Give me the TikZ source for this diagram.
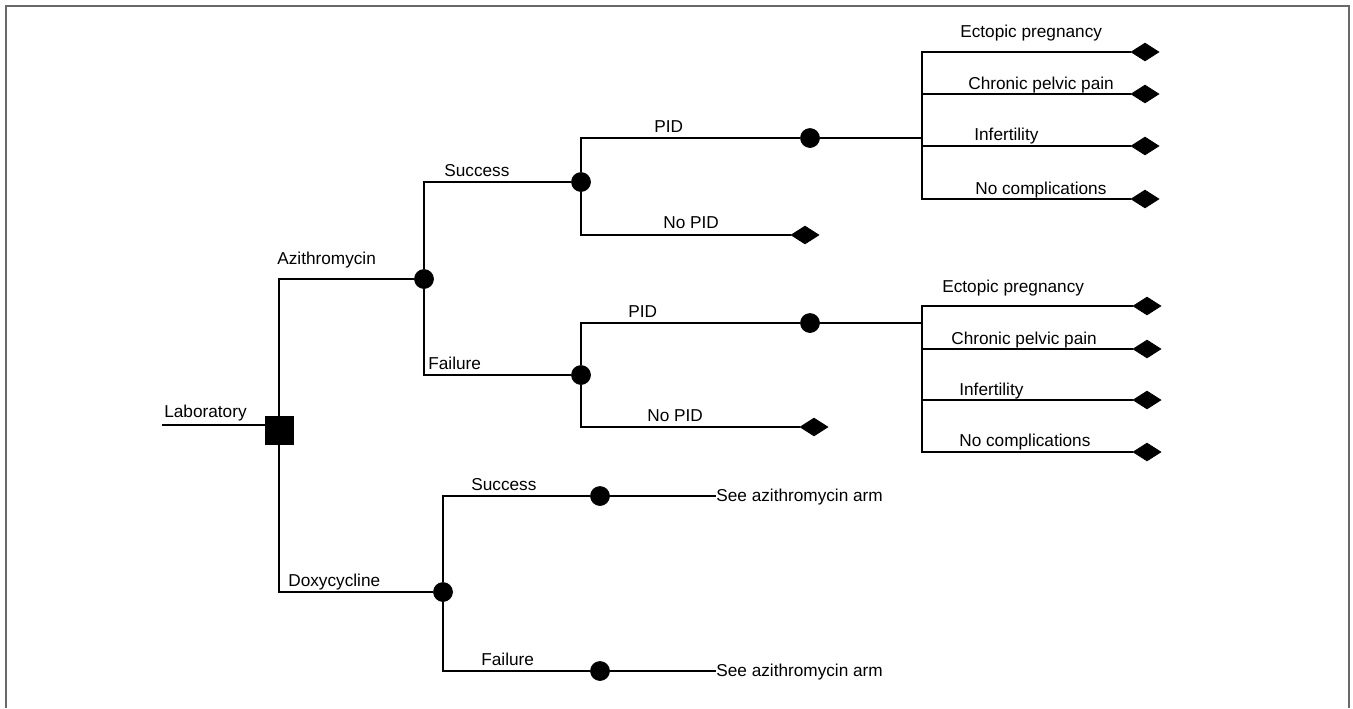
\documentclass[tikz,border=0pt]{standalone}
\usepackage{fontspec}
\setmainfont{Liberation Sans}
\usetikzlibrary{shapes.geometric,positioning,calc}
\definecolor{framegray}{RGB}{105,105,105}

\tikzset{
  decision/.style={draw, rectangle, fill=black, minimum size=0.56cm, inner sep=0pt},
  chance/.style={draw, circle, fill=black, minimum size=0.38cm, inner sep=0pt},
  terminal/.style={draw, diamond, fill=black, minimum width=0.56cm, minimum height=0.36cm, inner sep=0pt},
  branch/.style={line width=1.1pt},
  lbl/.style={anchor=base west, inner sep=0pt, font=\fontsize{9.8}{12}\selectfont}
}

\begin{document}
\begin{tikzpicture}[x=0.02cm, y=-0.02cm]
				\useasboundingbox (0,0) rectangle (1353,708);
				% Frame round the tree
				\draw[framegray, line width=1.2pt] (6,708) -- (6,6) -- (1349,6) -- (1349,708);
				
				% Decision node and first chance nodes
				\coordinate (start) at (162,425);
				\node[decision] (lab) at (279,430) {};
				\node[chance] (azi) at (424,279) {};
				\node[chance] (doxy) at (443,592) {};
				
				\draw[branch] (start) -- (start -| lab.west);
				\draw[branch] (lab) |- (azi);
				\draw[branch] (lab) |- (doxy);
				
				\node[lbl] (tlab) at (164,417) {Laboratory};
				\node[lbl] (tazi) at (277,264) {Azithromycin};
				\node[lbl] (tdoxy) at (288,586) {Doxycycline};
				
				% Azithromycin arm
				\node[chance] (sucA) at (581,182) {};
				\node[chance] (failA) at (581,375) {};
				\draw[branch] (azi) |- (sucA);
				\draw[branch] (azi) |- (failA);
				\node[lbl] (tsucA) at (444,176) {Success};
				\node[lbl] (tfailA) at (428,369) {Failure};
				
				% Success branch
				\node[chance] (pidA) at (810,138) {};
				\node[terminal] (nopidA) at (805,235) {};
				\draw[branch] (sucA) |- (pidA);
				\draw[branch] (sucA) |- (nopidA);
				\node[lbl] (tpidA) at (654,132) {PID};
				\node[lbl] (tnopidA) at (663,228) {No PID};
				
				% Failure branch
				\node[chance] (pidB) at (810,323) {};
				\node[terminal] (nopidB) at (814,427) {};
				\draw[branch] (failA) |- (pidB);
				\draw[branch] (failA) |- (nopidB);
				\node[lbl] (tpidB) at (628,317) {PID};
				\node[lbl] (tnopidB) at (647,421) {No PID};
				
				% Complications after PID (success)
				\coordinate (jA) at (922,138);
				\node[terminal] (ectA) at (1145,52) {};
				\node[terminal] (chrA) at (1145,94) {};
				\node[terminal] (infA) at (1145,146) {};
				\node[terminal] (nocA) at (1145,199) {};
				\draw[branch] (pidA) -- (jA);
				\draw[branch] (jA) |- (ectA);
				\draw[branch] (jA) |- (chrA);
				\draw[branch] (jA) |- (infA);
				\draw[branch] (jA) |- (nocA);
				\node[lbl] (tectA) at (960,37) {Ectopic pregnancy};
				\node[lbl] (tchrA) at (968,89) {Chronic pelvic pain};
				\node[lbl] (tinfA) at (974,140) {Infertility};
				\node[lbl] (tnocA) at (975,194) {No complications};
				
				% Complications after PID (failure)
				\coordinate (jB) at (922,323);
				\node[terminal] (ectB) at (1147,306) {};
				\node[terminal] (chrB) at (1147,349) {};
				\node[terminal] (infB) at (1147,400) {};
				\node[terminal] (nocB) at (1147,452) {};
				\draw[branch] (pidB) -- (jB);
				\draw[branch] (jB) |- (ectB);
				\draw[branch] (jB) |- (chrB);
				\draw[branch] (jB) |- (infB);
				\draw[branch] (jB) |- (nocB);
				\node[lbl] (tectB) at (942,292) {Ectopic pregnancy};
				\node[lbl] (tchrB) at (951,344) {Chronic pelvic pain};
				\node[lbl] (tinfB) at (959,395) {Infertility};
				\node[lbl] (tnocB) at (959,446) {No complications};
				
				% Doxycycline arm
				\node[chance] (sucD) at (600,496) {};
				\node[chance] (failD) at (600,671) {};
				\draw[branch] (doxy) |- (sucD);
				\draw[branch] (doxy) |- (failD);
				\node[lbl] (tsucD) at (471,490) {Success};
				\node[lbl] (tfailD) at (481,665) {Failure};
				
				\node[lbl] (seeS) at (716,501) {See azithromycin arm};
				\node[lbl] (seeF) at (716,676) {See azithromycin arm};
				\draw[branch] (sucD) -- (seeS.west |- sucD);
				\draw[branch] (failD) -- (seeF.west |- failD);
			\end{tikzpicture}
\end{document}
